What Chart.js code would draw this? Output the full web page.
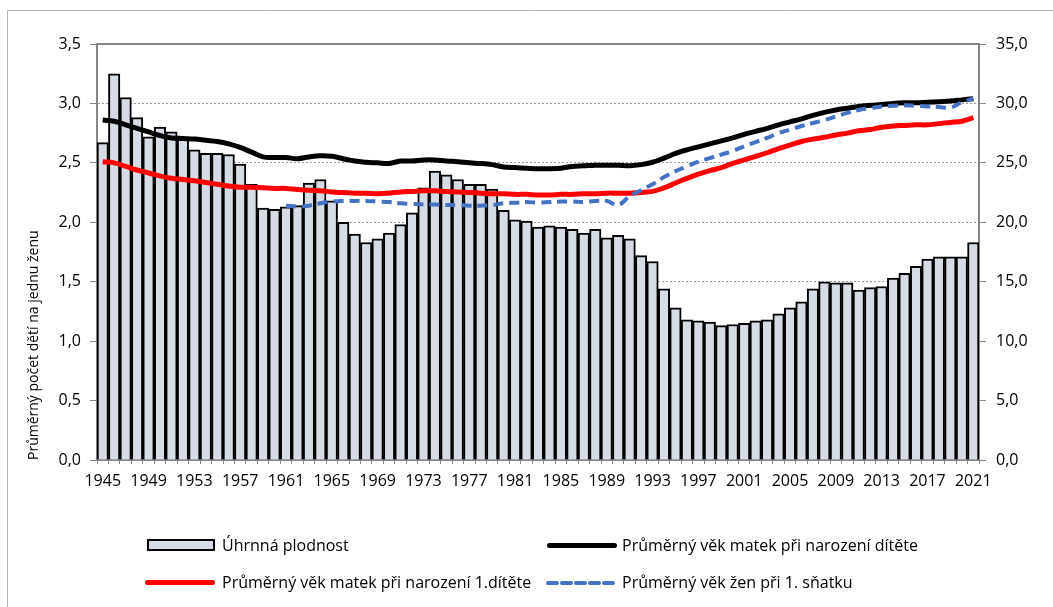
<!DOCTYPE html>
<html>
<head>
<meta charset="utf-8">
<script src="https://cdn.jsdelivr.net/npm/chart.js@4.4.1/dist/chart.umd.min.js"></script>
<style>
    body { margin: 0; background: #fff; }
    #wrap { position: relative; width: 1053px; height: 607px; font-family: "Open Sans", sans-serif; }
    .lg-text { position: absolute; font-size: 16px; color: #000; line-height: 20px; white-space: nowrap; }
    .lg-mark { position: absolute; }
</style>
</head>
<body>
<div id="wrap">
    <canvas id="chart" width="1053" height="607"></canvas>

    <div class="lg-mark" style="left:147px; top:539px; width:64px; height:8px; background:#d6dce5; border:2px solid #000;"></div>
    <div class="lg-text" style="left:222px; top:535px;">Úhrnná plodnost</div>

    <div class="lg-mark" style="left:547px; top:543px; width:70px; height:5px; background:#000; border-radius:3px;"></div>
    <div class="lg-text" style="left:622px; top:535px;">Průměrný věk matek při narození dítěte</div>

    <div class="lg-mark" style="left:145px; top:580px; width:70px; height:5px; background:#ff0000; border-radius:3px;"></div>
    <div class="lg-text" style="left:222px; top:572px;">Průměrný věk matek při narození 1.dítěte</div>

    <svg class="lg-mark" style="left:545px; top:578px;" width="76" height="10">
        <line x1="3" y1="5" x2="72" y2="5" stroke="#4472c4" stroke-width="4" stroke-dasharray="9,5" stroke-linecap="round"/>
    </svg>
    <div class="lg-text" style="left:622px; top:572px;">Průměrný věk žen při 1. sňatku</div>
</div>

<script>
const years = [];
for (let y = 1945; y <= 2021; y++) years.push(String(y));

// Úhrnná plodnost (left axis)
const fertility = [
    2.67, 3.25, 3.05, 2.88, 2.72, 2.80, 2.76, 2.70, 2.61, 2.58,
    2.58, 2.57, 2.49, 2.32, 2.12, 2.11, 2.13, 2.14, 2.33, 2.36,
    2.18, 2.00, 1.90, 1.83, 1.86, 1.91, 1.98, 2.08, 2.29, 2.43,
    2.40, 2.36, 2.32, 2.32, 2.28, 2.10, 2.02, 2.01, 1.96, 1.97,
    1.96, 1.94, 1.91, 1.94, 1.87, 1.89, 1.86, 1.72, 1.67, 1.44,
    1.28, 1.18, 1.17, 1.16, 1.13, 1.14, 1.15, 1.17, 1.18, 1.23,
    1.28, 1.33, 1.44, 1.50, 1.49, 1.49, 1.43, 1.45, 1.46, 1.53,
    1.57, 1.63, 1.69, 1.71, 1.71, 1.71, 1.83
];

// Průměrný věk matek při narození dítěte (right axis)
const ageBirth = [
    28.6, 28.5, 28.2, 27.9, 27.6, 27.3, 27.1, 27.05, 27.0, 26.9,
    26.8, 26.6, 26.3, 25.9, 25.5, 25.45, 25.45, 25.35, 25.5, 25.6,
    25.55, 25.35, 25.15, 25.05, 25.0, 24.95, 25.15, 25.15, 25.25, 25.25,
    25.15, 25.1, 25.0, 24.95, 24.85, 24.65, 24.6, 24.55, 24.5, 24.5,
    24.55, 24.7, 24.75, 24.8, 24.8, 24.8, 24.75, 24.85, 25.05, 25.4,
    25.8, 26.1, 26.35, 26.6, 26.85, 27.1, 27.4, 27.65, 27.9, 28.2,
    28.45, 28.7, 29.0, 29.25, 29.45, 29.6, 29.75, 29.85, 29.9, 30.0,
    30.05, 30.05, 30.1, 30.15, 30.2, 30.3, 30.4
];

// Průměrný věk matek při narození 1.dítěte (right axis)
const ageFirstBirth = [
    25.1, 25.0, 24.7, 24.4, 24.15, 23.9, 23.7, 23.6, 23.5, 23.35,
    23.2, 23.05, 22.95, 22.95, 22.9, 22.85, 22.85, 22.75, 22.7, 22.65,
    22.55, 22.5, 22.45, 22.45, 22.4, 22.45, 22.55, 22.6, 22.65, 22.65,
    22.6, 22.55, 22.5, 22.45, 22.4, 22.4, 22.35, 22.35, 22.3, 22.3,
    22.35, 22.35, 22.4, 22.4, 22.45, 22.45, 22.45, 22.5, 22.6, 22.9,
    23.3, 23.7, 24.05, 24.35, 24.6, 24.95, 25.25, 25.55, 25.85, 26.2,
    26.5, 26.8, 27.0, 27.15, 27.35, 27.5, 27.7, 27.8, 28.0, 28.1,
    28.15, 28.2, 28.2, 28.3, 28.4, 28.5, 28.8
];

// Průměrný věk žen při 1. sňatku (right axis), data od 1961
const ageMarriage = [
    null, null, null, null, null, null, null, null, null, null,
    null, null, null, null, null, null, 21.4, 21.35, 21.4, 21.6,
    21.75, 21.8, 21.8, 21.8, 21.75, 21.7, 21.6, 21.55, 21.5, 21.5,
    21.45, 21.45, 21.4, 21.4, 21.45, 21.6, 21.65, 21.7, 21.65, 21.7,
    21.75, 21.75, 21.7, 21.8, 21.8, 21.45, 22.2, 22.7, 23.2, 23.8,
    24.3, 24.7, 25.1, 25.4, 25.7, 26.0, 26.4, 26.75, 27.1, 27.5,
    27.8, 28.1, 28.35, 28.6, 28.9, 29.2, 29.45, 29.6, 29.75, 29.8,
    29.85, 29.8, 29.75, 29.7, 29.65, 30.1, 30.4
];

const leftTicks = [0, 0.5, 1, 1.5, 2, 2.5, 3, 3.5];
const rightTicks = [0, 5, 10, 15, 20, 25, 30, 35];

const axisGrey = "#868686";
const fmt = v => v.toFixed(1).replace(".", ",");

const framePlugin = {
    id: "frame",
    afterDraw(chart) {
        const ctx = chart.ctx;
        const a = chart.chartArea;
        ctx.save();
        // outer frame
        ctx.strokeStyle = "#b4b4b4";
        ctx.lineWidth = 1;
        ctx.beginPath();
        ctx.moveTo(7.5, 607);
        ctx.lineTo(7.5, 10.5);
        ctx.lineTo(1053, 10.5);
        ctx.stroke();
        // top edge of plot area
        ctx.strokeStyle = axisGrey;
        ctx.lineWidth = 2;
        ctx.beginPath();
        ctx.moveTo(a.left, a.top);
        ctx.lineTo(a.right, a.top);
        ctx.stroke();
        ctx.restore();
    }
};

new Chart(document.getElementById("chart"), {
    data: {
        labels: years,
        datasets: [
            {
                type: "line",
                label: "Průměrný věk žen při 1. sňatku",
                data: ageMarriage,
                yAxisID: "y2",
                borderColor: "#4472c4",
                borderWidth: 4,
                borderDash: [10, 6],
                pointRadius: 0,
                tension: 0.4,
                spanGaps: false,
                order: 0
            },
            {
                type: "line",
                label: "Průměrný věk matek při narození 1.dítěte",
                data: ageFirstBirth,
                yAxisID: "y2",
                borderColor: "#ff0000",
                borderWidth: 5,
                pointRadius: 0,
                tension: 0.4,
                order: 1
            },
            {
                type: "line",
                label: "Průměrný věk matek při narození dítěte",
                data: ageBirth,
                yAxisID: "y2",
                borderColor: "#000000",
                borderWidth: 5,
                pointRadius: 0,
                tension: 0.4,
                order: 2
            },
            {
                type: "bar",
                label: "Úhrnná plodnost",
                data: fertility,
                yAxisID: "y",
                backgroundColor: "#d6dce5",
                borderColor: "#000000",
                borderWidth: 2,
                barPercentage: 1,
                categoryPercentage: 1,
                order: 3
            }
        ]
    },
    options: {
        responsive: false,
        animation: false,
        devicePixelRatio: 1,
        layout: { padding: { top: 44, left: 0, right: 0, bottom: 0 } },
        plugins: {
            legend: { display: false },
            tooltip: { enabled: false }
        },
        scales: {
            x: {
                offset: true,
                afterFit(s) { s.height = 147; },
                grid: {
                    offset: true,
                    drawOnChartArea: false,
                    drawTicks: true,
                    tickLength: 4,
                    tickColor: axisGrey
                },
                border: { color: axisGrey, width: 2 },
                ticks: {
                    autoSkip: false,
                    maxRotation: 0,
                    padding: 8,
                    color: "#000",
                    font: { family: "Open Sans", size: 16 },
                    callback: (v, i) => (i % 4 === 0 ? years[i] : "")
                }
            },
            y: {
                position: "left",
                min: 0,
                max: 3.5,
                afterFit(s) { s.width = 97; },
                afterBuildTicks(s) { s.ticks = leftTicks.map(v => ({ value: v })); },
                grid: {
                    color: "#9a9a9a",
                    lineWidth: 1,
                    tickLength: 7,
                    tickColor: axisGrey
                },
                border: { color: axisGrey, width: 2, dash: [2, 2] },
                ticks: {
                    padding: 9,
                    color: "#000",
                    font: { family: "Open Sans", size: 16 },
                    callback: v => fmt(v)
                },
                title: {
                    display: true,
                    text: "Průměrný počet dětí na jednu ženu",
                    align: "start",
                    color: "#000",
                    font: { family: "Open Sans", size: 14 },
                    padding: { top: 26, bottom: 0 }
                }
            },
            y2: {
                position: "right",
                min: 0,
                max: 35,
                afterFit(s) { s.width = 74; },
                afterBuildTicks(s) { s.ticks = rightTicks.map(v => ({ value: v })); },
                grid: {
                    drawOnChartArea: false,
                    tickLength: 7,
                    tickColor: axisGrey
                },
                border: { color: axisGrey, width: 2 },
                ticks: {
                    padding: 10,
                    color: "#000",
                    font: { family: "Open Sans", size: 16 },
                    callback: v => fmt(v)
                }
            }
        }
    },
    plugins: [framePlugin]
});
</script>
</body>
</html>
